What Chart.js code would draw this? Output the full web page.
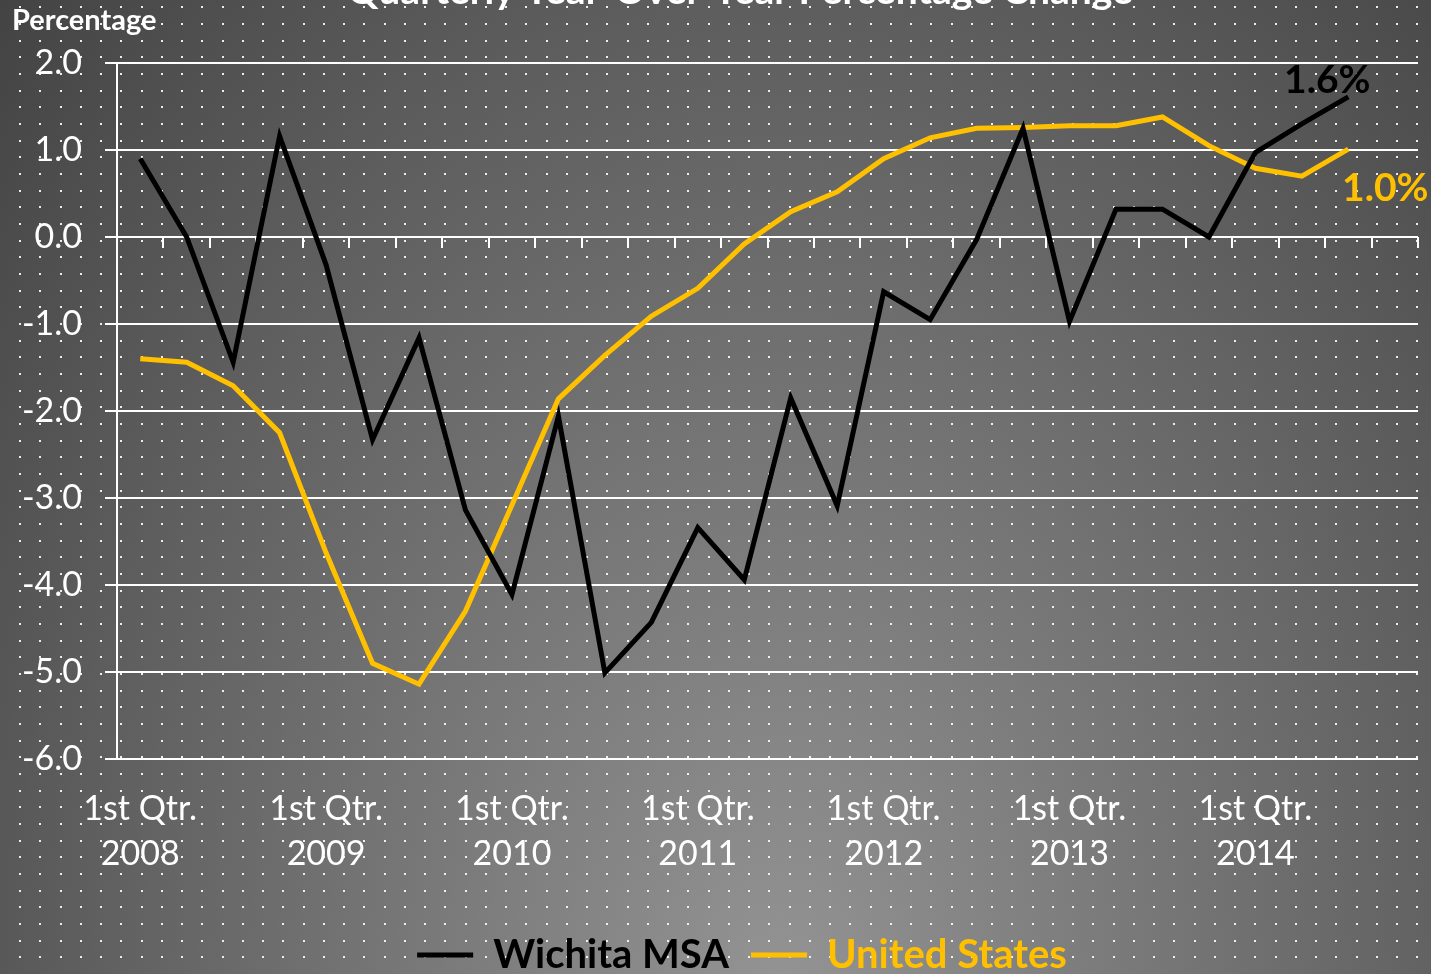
<!DOCTYPE html>
<html>
<head>
<meta charset="utf-8">
<script src="https://cdn.jsdelivr.net/npm/chart.js@4/dist/chart.umd.min.js"></script>
<style>
  html, body { margin: 0; padding: 0; background: #555; }
  #wrap { width: 1431px; height: 974px; }
</style>
</head>
<body>
<div id="wrap"><canvas id="qChart" width="1431" height="974"></canvas></div>
<script>
// Quarters 2008 Q1 .. 2014 Q4 (last quarter has no data yet)
const quarters = [
  '2008 Q1', '2008 Q2', '2008 Q3', '2008 Q4',
  '2009 Q1', '2009 Q2', '2009 Q3', '2009 Q4',
  '2010 Q1', '2010 Q2', '2010 Q3', '2010 Q4',
  '2011 Q1', '2011 Q2', '2011 Q3', '2011 Q4',
  '2012 Q1', '2012 Q2', '2012 Q3', '2012 Q4',
  '2013 Q1', '2013 Q2', '2013 Q3', '2013 Q4',
  '2014 Q1', '2014 Q2', '2014 Q3', '2014 Q4'
];

// x tick labels: only the 1st quarter of each year is labelled
const tickLabels = [
  ['1st Qtr.', '2008'], '', '', '',
  ['1st Qtr.', '2009'], '', '', '',
  ['1st Qtr.', '2010'], '', '', '',
  ['1st Qtr.', '2011'], '', '', '',
  ['1st Qtr.', '2012'], '', '', '',
  ['1st Qtr.', '2013'], '', '', '',
  ['1st Qtr.', '2014'], '', '', ''
];

// Wichita MSA, % change from a year earlier
const wichita = [
  0.90, 0.00, -1.44, 1.16,
  -0.32, -2.33, -1.16, -3.14,
  -4.11, -2.06, -5.01, -4.43,
  -3.34, -3.94, -1.85, -3.09,
  -0.63, -0.95, -0.03, 1.25,
  -0.97, 0.32, 0.32, 0.00,
  0.97, 1.30, 1.61
];

// United States, % change from a year earlier
const unitedStates = [
  -1.40, -1.44, -1.71, -2.25,
  -3.63, -4.90, -5.14, -4.30,
  -3.08, -1.86, -1.36, -0.91,
  -0.59, -0.08, 0.29, 0.52,
  0.90, 1.14, 1.25, 1.26,
  1.28, 1.28, 1.38, 1.05,
  0.79, 0.70, 1.01
];

// labels written next to the last point of each series
const endLabels = ['1.6%', '1.0%'];

const yTicks = { min: -6, max: 2, step: 1 };

const FONT = 'Lato, "Open Sans", sans-serif';
const BLACK = '#000000';
const GOLD = '#FFC000';

// ✅ Background: elliptical grey gradient + dotted grid
const backdrop = {
  id: 'backdrop',
  beforeDraw(chart) {
    const ctx = chart.ctx;
    const w = chart.width, h = chart.height;
    ctx.save();
    ctx.translate(780, 1000);
    ctx.scale(1 / 1.4, 1);
    const g = ctx.createRadialGradient(0, 0, 0, 0, 0, 1500);
    g.addColorStop(0, 'rgb(148,148,148)');
    g.addColorStop(1, 'rgb(66,66,66)');
    ctx.fillStyle = g;
    ctx.fillRect(-780 * 1.4, -1000, w * 1.4, h);
    ctx.restore();

    ctx.save();
    ctx.fillStyle = 'rgba(245,245,245,0.95)';
    for (let y = 7.3; y < h; y += 16.67) {
      for (let x = 20; x < w; x += 20.25) {
        ctx.fillRect(Math.round(x) - 1, Math.round(y) - 1, 2, 2);
      }
    }
    ctx.restore();
  }
};

// ✅ Legend is centred a little right of the canvas middle
const legendShift = {
  id: 'legendShift',
  afterLayout(chart) {
    if (chart.legend) chart.legend.left += 66;
  }
};

// ✅ Title (cut at the top) and the "Percentage" axis caption
const captions = {
  id: 'captions',
  afterDraw(chart) {
    const ctx = chart.ctx;
    ctx.save();
    ctx.fillStyle = '#ffffff';
    ctx.textBaseline = 'alphabetic';
    ctx.textAlign = 'center';
    ctx.font = 'bold 39px ' + FONT;
    ctx.fillText('Quarterly Year-Over-Year Percentage Change', 740, 4);
    ctx.textAlign = 'left';
    ctx.font = 'bold 29px ' + FONT;
    ctx.fillText('Percentage', 12, 30);
    ctx.restore();
  }
};

// ✅ End-of-line value labels
const endValues = {
  id: 'endValues',
  afterDatasetsDraw(chart) {
    const ctx = chart.ctx;
    const offsets = [[-21, -17], [37, 39]];
    ctx.save();
    ctx.font = 'bold 39px ' + FONT;
    ctx.textAlign = 'center';
    ctx.textBaseline = 'middle';
    chart.data.datasets.forEach((ds, i) => {
      const meta = chart.getDatasetMeta(i);
      const pt = meta.data[ds.data.length - 1];
      if (!pt) return;
      ctx.fillStyle = ds.borderColor;
      ctx.fillText(endLabels[i], pt.x + offsets[i][0], pt.y + offsets[i][1]);
    });
    ctx.restore();
  }
};

const ctx = document.getElementById('qChart').getContext('2d');
const chart = new Chart(ctx, {
  type: 'line',
  data: {
    labels: quarters,
    datasets: [
      {
        label: 'Wichita MSA',
        data: wichita,
        borderColor: BLACK,
        backgroundColor: BLACK,
        borderWidth: 5,
        pointRadius: 0,
        tension: 0,
        fill: false,
        xAxisID: 'x'
      },
      {
        label: 'United States',
        data: unitedStates,
        borderColor: GOLD,
        backgroundColor: GOLD,
        borderWidth: 5,
        pointRadius: 0,
        tension: 0,
        fill: false,
        xAxisID: 'x'
      }
    ]
  },
  options: {
    responsive: false,
    animation: false,
    layout: { padding: { top: 63, left: 0, right: 13, bottom: -11 } },
    plugins: {
      title: { display: false },
      tooltip: { enabled: false },
      legend: {
        position: 'bottom',
        align: 'center',
        labels: {
          font: { family: FONT, size: 40, weight: 'bold' },
          boxWidth: 56,
          boxHeight: 5,
          padding: 22,
          generateLabels(chart) {
            const items = Chart.defaults.plugins.legend.labels.generateLabels(chart);
            return items.map(it => Object.assign(it, {
              fillStyle: it.strokeStyle,
              fontColor: it.strokeStyle,
              lineWidth: 0
            }));
          }
        }
      }
    },
    scales: {
      // category axis sitting on the zero line: only the tick marks
      x: {
        type: 'category',
        position: { y: 0 },
        offset: true,
        border: { display: false },
        grid: {
          display: true,
          offset: true,
          drawOnChartArea: false,
          drawTicks: true,
          tickLength: 11,
          color: '#ffffff',
          lineWidth: 2
        },
        ticks: { display: false }
      },
      // labels at the bottom of the plot
      x2: {
        type: 'category',
        position: 'bottom',
        offset: true,
        border: { display: false },
        grid: { display: false, drawTicks: false },
        ticks: {
          autoSkip: false,
          maxRotation: 0,
          minRotation: 0,
          padding: 28,
          color: '#ffffff',
          font: { family: FONT, size: 34, lineHeight: 1.32 },
          callback: (v, i) => tickLabels[i]
        },
        afterFit(scale) { scale.height = 154; }
      },
      y: {
        min: yTicks.min,
        max: yTicks.max,
        border: { display: true, color: '#ffffff', width: 2 },
        grid: {
          color: '#ffffff',
          lineWidth: 2,
          drawTicks: true,
          tickLength: 12,
          tickColor: '#ffffff'
        },
        ticks: {
          stepSize: yTicks.step,
          padding: 23,
          color: '#ffffff',
          font: { family: FONT, size: 34 },
          callback: v => Number(v).toFixed(1)
        },
        afterFit(scale) { scale.width = 117; }
      }
    }
  },
  plugins: [backdrop, legendShift, captions, endValues]
});
</script>
</body>
</html>
